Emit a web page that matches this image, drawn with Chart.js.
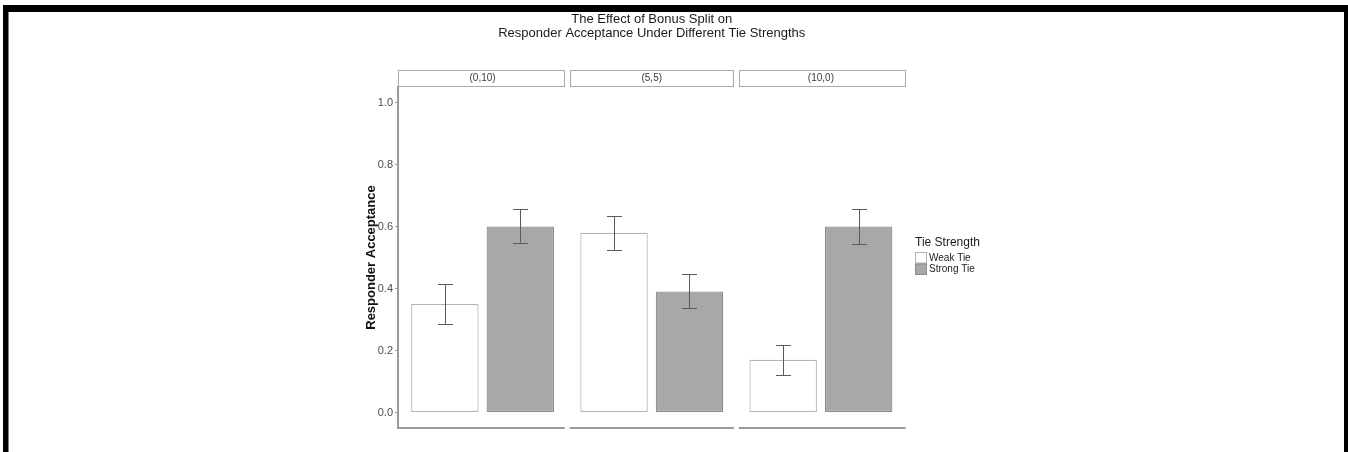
<!DOCTYPE html>
<html>
<head>
<meta charset="utf-8">
<script src="https://cdn.jsdelivr.net/npm/chart.js@4.4.1/dist/chart.umd.min.js"></script>
<style>
  html, body { margin: 0; padding: 0; background: #ffffff; }
  #wrap { position: relative; width: 1348px; height: 452px; }
</style>
</head>
<body>
<div id="wrap"><canvas id="c" width="1348" height="452"></canvas></div>
<script>
// Bonus split conditions (facets)
const categories = ['(0,10)', '(5,5)', '(10,0)'];

// Mean responder acceptance by tie strength
const weakTie = [0.35, 0.58, 0.17];
const strongTie = [0.60, 0.39, 0.60];

// Error bar bounds
const weakLow = [0.285, 0.525, 0.12];
const weakHigh = [0.413, 0.633, 0.218];
const strongLow = [0.548, 0.336, 0.543];
const strongHigh = [0.655, 0.446, 0.655];

// Axis ticks
const yTicks = [0, 0.2, 0.4, 0.6, 0.8, 1.0];

const titleLines = ['The Effect of Bonus Split on', 'Responder Acceptance Under Different Tie Strengths'];
const yTitle = 'Responder Acceptance';
const legendTitle = 'Tie Strength';

const FONT = '"Liberation Sans", Arial, Helvetica, sans-serif';

// Page frame, facet strips, split bottom axis, error bars, titles and legend
const decor = {
  id: 'decor',
  beforeDraw(chart) {
    const ctx = chart.ctx;
    ctx.save();
    ctx.fillStyle = '#ffffff';
    ctx.fillRect(0, 0, chart.width, chart.height);
    // frame
    ctx.fillStyle = '#000000';
    ctx.fillRect(3, 5, chart.width - 3, 7);
    ctx.fillRect(3, 5, 5.5, chart.height - 5);
    ctx.fillRect(chart.width - 4, 5, 4, chart.height - 5);
    ctx.restore();
  },
  afterDraw(chart) {
    const ctx = chart.ctx;
    const ca = chart.chartArea;
    const xs = chart.scales.x;
    const ys = chart.scales.y;
    const n = categories.length;
    const step = (ca.right - ca.left) / n;
    const gap = 5;
    ctx.save();

    // facet panels: strips and bottom axis segments
    for (let i = 0; i < n; i++) {
      const left = ca.left + i * step + (i === 0 ? 0 : gap / 2);
      const right = ca.left + (i + 1) * step - (i === n - 1 ? 0 : gap / 2);
      ctx.fillStyle = '#ffffff';
      ctx.strokeStyle = '#a8a8a8';
      ctx.lineWidth = 1;
      ctx.fillRect(left, 70, right - left, 17);
      ctx.strokeRect(Math.round(left) + 0.5, 70.5, Math.round(right - left) - 1, 16);
      ctx.fillStyle = '#3a3a3a';
      ctx.font = '10px ' + FONT;
      ctx.textAlign = 'center';
      ctx.textBaseline = 'middle';
      ctx.fillText(categories[i], xs.getPixelForValue(i), 78.5);

      ctx.strokeStyle = '#9a9a9a';
      ctx.lineWidth = 2;
      ctx.beginPath();
      ctx.moveTo(left, ca.bottom);
      ctx.lineTo(right, ca.bottom);
      ctx.stroke();
    }

    // error bars
    const lows = [weakLow, strongLow];
    const highs = [weakHigh, strongHigh];
    ctx.strokeStyle = '#5a5a5a';
    ctx.lineWidth = 1;
    for (let d = 0; d < 2; d++) {
      const meta = chart.getDatasetMeta(d);
      meta.data.forEach((bar, i) => {
        const x = Math.round(bar.x) + 0.5;
        const y1 = ys.getPixelForValue(lows[d][i]);
        const y2 = ys.getPixelForValue(highs[d][i]);
        ctx.beginPath();
        ctx.moveTo(x, y1); ctx.lineTo(x, y2);
        ctx.moveTo(x - 7.5, Math.round(y1) + 0.5); ctx.lineTo(x + 7.5, Math.round(y1) + 0.5);
        ctx.moveTo(x - 7.5, Math.round(y2) + 0.5); ctx.lineTo(x + 7.5, Math.round(y2) + 0.5);
        ctx.stroke();
      });
    }

    // title
    ctx.fillStyle = '#1a1a1a';
    ctx.font = '13px ' + FONT;
    ctx.textAlign = 'center';
    ctx.textBaseline = 'middle';
    const cx = (ca.left + ca.right) / 2;
    ctx.fillText(titleLines[0], cx, 19);
    ctx.fillText(titleLines[1], cx, 33);

    // y axis title
    ctx.save();
    ctx.translate(371, (ca.top + ca.bottom) / 2);
    ctx.rotate(-Math.PI / 2);
    ctx.font = 'bold 13px ' + FONT;
    ctx.fillStyle = '#111111';
    ctx.fillText(yTitle, 0, 0);
    ctx.restore();

    // legend
    ctx.textAlign = 'left';
    ctx.fillStyle = '#1a1a1a';
    ctx.font = '12px ' + FONT;
    ctx.fillText(legendTitle, 915, 243);
    chart.data.datasets.forEach((ds, k) => {
      const by = 252 + k * 11.5;
      ctx.fillStyle = ds.backgroundColor;
      ctx.fillRect(915, by, 12, 11.5);
      ctx.strokeStyle = ds.borderColor;
      ctx.lineWidth = 1;
      ctx.strokeRect(915.5, by + 0.5, 11, 10.5);
      ctx.fillStyle = '#1a1a1a';
      ctx.font = '10px ' + FONT;
      ctx.fillText(ds.label, 929, by + 6);
    });
    ctx.restore();
  }
};

new Chart(document.getElementById('c'), {
  type: 'bar',
  data: {
    labels: categories,
    datasets: [
      { label: 'Weak Tie', data: weakTie, backgroundColor: '#ffffff', borderColor: '#b4b4b4', borderWidth: 1.2, borderSkipped: false },
      { label: 'Strong Tie', data: strongTie, backgroundColor: '#a8a8a8', borderColor: '#8c8c8c', borderWidth: 1.2, borderSkipped: false }
    ]
  },
  options: {
    responsive: false,
    animation: false,
    devicePixelRatio: 1,
    layout: { padding: { left: 358, right: 442.5, top: 87, bottom: 24 } },
    plugins: { legend: { display: false }, title: { display: false }, tooltip: { enabled: false } },
    datasets: { bar: { categoryPercentage: 0.892, barPercentage: 0.894 } },
    scales: {
      x: { display: false },
      y: {
        min: -0.05,
        max: 1.05,
        afterFit: (s) => { s.width = 40; },
        afterBuildTicks: (s) => { s.ticks = yTicks.map(v => ({ value: v })); },
        ticks: {
          color: '#4d4d4d',
          font: { family: FONT, size: 11 },
          padding: 2,
          callback: (v) => Number(v).toFixed(1)
        },
        grid: { drawOnChartArea: false, drawTicks: true, tickLength: 3, color: '#9a9a9a', lineWidth: 1 },
        border: { display: true, color: '#9a9a9a', width: 2 }
      }
    }
  },
  plugins: [decor]
});
</script>
</body>
</html>
